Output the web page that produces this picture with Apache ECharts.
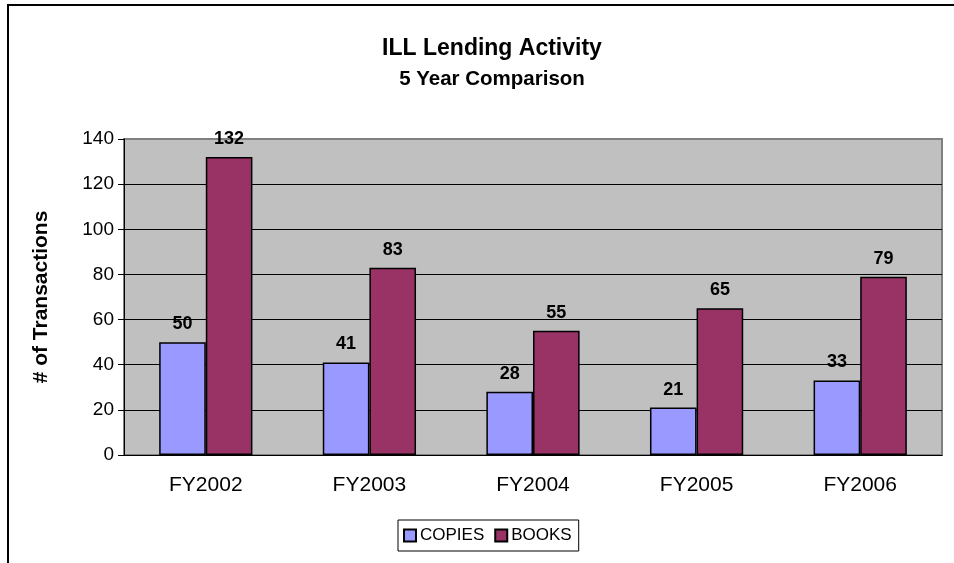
<!DOCTYPE html>
<html>
<head>
<meta charset="utf-8">
<script src="https://cdn.jsdelivr.net/npm/echarts@6/dist/echarts.min.js"></script>
<style>
  html, body { margin: 0; padding: 0; background: #fff; }
  #main { width: 954px; height: 563px; }
</style>
</head>
<body>
<div id="main"></div>
<script>
var years = ['FY2002', 'FY2003', 'FY2004', 'FY2005', 'FY2006'];
var copies = [50, 41, 28, 21, 33];
var books = [132, 83, 55, 65, 79];
var yTicks = [0, 20, 40, 60, 80, 100, 120, 140];

var font = 'Arial, "Liberation Sans", sans-serif';

var labelStyle = {
  show: true,
  position: 'top',
  distance: 9,
  fontFamily: font,
  fontSize: 18,
  fontWeight: 'bold',
  color: '#000'
};

// gridline colours: black inside, top one matches the grey plot border
var gridColors = yTicks.map(function (v, i) { return i === yTicks.length - 1 ? '#808080' : '#000'; });

var option = {
  animation: false,
  textStyle: { fontFamily: font },
  graphic: [{
    type: 'rect',
    shape: { x: 8, y: 5, width: 1000, height: 1000 },
    style: { fill: 'none', stroke: '#000', lineWidth: 2 }
  }],
  title: [
    {
      text: 'ILL Lending Activity',
      left: 487, top: 32, textAlign: 'center',
      textStyle: { fontFamily: font, fontSize: 23, fontWeight: 'bold', color: '#000' }
    },
    {
      text: '5 Year Comparison',
      left: 487, top: 64, textAlign: 'center',
      textStyle: { fontFamily: font, fontSize: 20.5, fontWeight: 'bold', color: '#000' }
    }
  ],
  legend: {
    left: 398, top: 520,
    itemWidth: 12, itemHeight: 12, itemGap: 10,
    padding: [7, 7, 7, 5],
    borderColor: '#000', borderWidth: 1,
    backgroundColor: '#fff',
    icon: 'rect',
    textStyle: { fontFamily: font, fontSize: 17, color: '#000', padding: [0, 0, 0, -1] },
    data: ['COPIES', 'BOOKS']
  },
  grid: {
    left: 124, right: 12, top: 139, bottom: 108,
    show: true,
    backgroundColor: '#C0C0C0',
    borderColor: '#808080',
    borderWidth: 2
  },
  xAxis: {
    type: 'category',
    data: years,
    axisLine: { lineStyle: { color: '#000', width: 1 } },
    axisTick: { length: 6, lineStyle: { color: '#000' } },
    axisLabel: { fontFamily: font, fontSize: 21, color: '#000', margin: 20 }
  },
  yAxis: {
    type: 'value',
    min: yTicks[0],
    max: yTicks[yTicks.length - 1],
    interval: 20,
    name: '# of Transactions',
    nameLocation: 'middle',
    nameGap: 72,
    nameTextStyle: { fontFamily: font, fontSize: 21, fontWeight: 'bold', color: '#000' },
    axisLine: { show: true, lineStyle: { color: '#000', width: 1 } },
    axisTick: { show: true, length: 6, lineStyle: { color: '#000' } },
    axisLabel: { fontFamily: font, fontSize: 19, color: '#000', margin: 10 },
    splitLine: { show: true, lineStyle: { color: gridColors, width: 1 } }
  },
  series: [
    {
      name: 'COPIES',
      type: 'bar',
      data: copies,
      barGap: '0%',
      barCategoryGap: '43%',
      itemStyle: { color: '#9999FF', borderColor: '#000', borderWidth: 1.5 },
      label: labelStyle
    },
    {
      name: 'BOOKS',
      type: 'bar',
      data: books,
      itemStyle: { color: '#993366', borderColor: '#000', borderWidth: 1.5 },
      label: labelStyle
    }
  ]
};

var chart = echarts.init(document.getElementById('main'), null, { renderer: 'canvas' });
chart.setOption(option);
</script>
</body>
</html>
